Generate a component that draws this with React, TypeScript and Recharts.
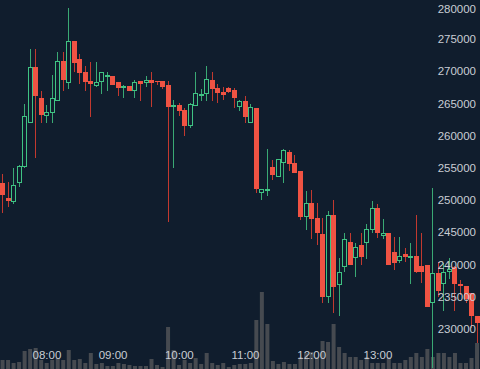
import { ComposedChart, Bar, XAxis, YAxis } from 'recharts'

// 5-minute candles, 07:20 -> 14:30
const times = [
  '07:20', '07:25', '07:30', '07:35', '07:40', '07:45', '07:50', '07:55',
  '08:00', '08:05', '08:10', '08:15', '08:20', '08:25', '08:30', '08:35', '08:40', '08:45', '08:50', '08:55',
  '09:00', '09:05', '09:10', '09:15', '09:20', '09:25', '09:30', '09:35', '09:40', '09:45', '09:50', '09:55',
  '10:00', '10:05', '10:10', '10:15', '10:20', '10:25', '10:30', '10:35', '10:40', '10:45', '10:50', '10:55',
  '11:00', '11:05', '11:10', '11:15', '11:20', '11:25', '11:30', '11:35', '11:40', '11:45', '11:50', '11:55',
  '12:00', '12:05', '12:10', '12:15', '12:20', '12:25', '12:30', '12:35', '12:40', '12:45', '12:50', '12:55',
  '13:00', '13:05', '13:10', '13:15', '13:20', '13:25', '13:30', '13:35', '13:40', '13:45', '13:50', '13:55',
  '14:00', '14:05', '14:10', '14:15', '14:20', '14:25', '14:30',
]

const opens = [
  252700, 250300, 249700, 252700, 255200, 262000, 270700, 265900, 263100, 263500,
  265400, 271600, 268200, 274700, 271900, 269900, 268500, 267700, 268400, 269200,
  269300, 268400, 267400, 267700, 267000, 268500, 268200, 268700, 268500, 268500,
  267900, 264500, 264800, 264000, 261500, 264600, 266200, 266500, 268700, 267400,
  266800, 267400, 267100, 264500, 265400, 262000, 264300, 251100, 251400, 255200,
  253600, 255800, 257500, 255800, 254500, 247400, 249600, 247200, 244800, 235000,
  247700, 236800, 239600, 243500, 241000, 243000, 243400, 245400, 248800, 244400,
  244900, 242000, 240600, 241600, 241200, 241300, 239800, 239900, 234000, 238700,
  237000, 238900, 239600, 237000, 236700, 235600, 232000,
]

const highs = [
  254100, 252800, 255000, 255500, 264900, 273500, 273500, 267000, 264800, 269400,
  273000, 273000, 279900, 274700, 272700, 270800, 271500, 271500, 269900, 269900,
  269300, 268400, 267900, 267700, 268700, 268500, 269300, 269900, 268500, 268500,
  268500, 265600, 265100, 264300, 265100, 269900, 267300, 270800, 269900, 268000,
  267600, 267600, 267400, 265600, 266200, 264900, 264300, 251700, 258000, 256200,
  256400, 258000, 257800, 257000, 254500, 251400, 251600, 249600, 247200, 248300,
  250000, 241000, 244900, 244900, 243400, 244900, 246300, 249900, 249400, 247100,
  244900, 244300, 244300, 242600, 243400, 247700, 244900, 239900, 251900, 240400,
  240200, 241000, 239800, 237600, 236700, 235600, 232000,
]

const lows = [
  248000, 248900, 249400, 252100, 255000, 262000, 256600, 262000, 262000, 262000,
  265400, 267000, 267300, 269900, 268000, 267000, 262900, 267600, 266500, 267000,
  267900, 266200, 265900, 267000, 265900, 265400, 267600, 264500, 267900, 267300,
  246600, 255000, 263100, 260000, 261200, 264600, 265400, 265400, 265400, 265100,
  265600, 266600, 264300, 263900, 262000, 262000, 251100, 250000, 250700, 253100,
  253600, 252700, 254500, 254200, 246900, 245400, 244000, 243000, 234000, 234000,
  232500, 232000, 238900, 239900, 238100, 239900, 240900, 244900, 244100, 244000,
  239900, 239200, 240200, 240400, 237000, 238700, 237100, 233400, 223900, 235000,
  232800, 237800, 232800, 235300, 234000, 230200, 227800,
]

const closes = [
  250800, 249900, 252400, 255300, 263100, 270700, 266200, 263200, 263700, 265900,
  271600, 268700, 274700, 271300, 269800, 268400, 268000, 268400, 269900, 269400,
  267900, 267400, 267700, 267000, 268400, 268000, 268700, 268200, 268300, 267600,
  264500, 264800, 263900, 261500, 264900, 266600, 266500, 268800, 267300, 266600,
  266300, 266800, 265900, 265400, 262900, 264500, 251700, 251700, 251700, 253900,
  256400, 257800, 255600, 254200, 247400, 249600, 247100, 244900, 235000, 247700,
  236500, 238900, 244000, 239900, 242700, 241200, 245500, 248800, 244900, 244900,
  239900, 240200, 241300, 241200, 241400, 238900, 238900, 233400, 238700, 235900,
  238900, 239300, 237000, 236700, 234700, 232000, 230900,
]

const volumes = [
  900, 900, 600, 700, 1800, 2000, 2100, 900, 600, 900,
  1100, 900, 1900, 900, 1000, 600, 1600, 500, 600, 300,
  300, 600, 500, 400, 300, 300, 300, 1000, 400, 200,
  4200, 1900, 400, 900, 600, 1100, 500, 1600, 600, 400,
  600, 200, 400, 500, 500, 600, 4900, 7700, 4500, 800,
  500, 700, 500, 500, 1200, 1600, 1700, 1200, 2800, 2700,
  4500, 2200, 1600, 1200, 1200, 900, 1200, 600, 600, 600,
  1200, 600, 600, 900, 1200, 1600, 1200, 2000, 1200, 1600,
  1600, 1200, 1600, 600, 600, 1100, 2600,
]

const hourTicks = ['08:00', '09:00', '10:00', '11:00', '12:00', '13:00']
const priceTicks = [230000, 235000, 240000, 245000, 250000, 255000, 260000, 265000, 270000, 275000, 280000]

const W = 480
const H = 369
const BG = '#101d2d'
const UP = '#3fc383'
const DOWN = '#f05343'
const UP_WICK = '#3aa974'
const DOWN_WICK = '#c2392f'
const VOL = '#464a50'
const TEXT = '#c9cdd4'
const FONT = '"Liberation Sans", Arial, sans-serif'

const rows = times.map((t, i) => ({
  time: t,
  open: opens[i],
  high: highs[i],
  low: lows[i],
  close: closes[i],
  range: [lows[i], highs[i]],
  volume: volumes[i],
}))

function Candle(props: any) {
  const { x, y, width, height, payload } = props
  if (x == null || !payload) return null
  const { open, close, high, low } = payload
  const top = Math.min(y, y + height)
  const h = Math.abs(height)
  const span = high - low
  const toY = (v: number) => (span > 0 ? top + ((high - v) / span) * h : top)
  const c = Math.floor(x + width / 2)
  const up = close >= open
  const bodyTop = Math.round(toY(Math.max(open, close)))
  const bodyBot = Math.round(toY(Math.min(open, close)))
  const bh = Math.max(bodyBot - bodyTop, 1)
  return (
    <g shapeRendering="crispEdges">
      <line x1={c + 0.5} x2={c + 0.5} y1={top} y2={top + Math.max(h, 1)} stroke={up ? UP_WICK : DOWN_WICK} strokeWidth={1} />
      {up ? (
        <rect x={c - 1.5} y={bodyTop + 0.5} width={4} height={Math.max(bh - 1, 1)} fill={BG} stroke={UP} strokeWidth={1} />
      ) : (
        <rect x={c - 2} y={bodyTop} width={5} height={bh} fill={DOWN} />
      )}
    </g>
  )
}

function TimeTick(props: any) {
  const { x, payload } = props
  return (
    <text x={x} y={H - 10} textAnchor="middle" fill={TEXT} fontSize={11.5} fontFamily={FONT}>
      {payload.value}
    </text>
  )
}

function PriceTick(props: any) {
  const { y, payload } = props
  return (
    <text x={W - 4} y={y + 4} textAnchor="end" fill={TEXT} fontSize={11.5} fontFamily={FONT}>
      {payload.value}
    </text>
  )
}

export default function App() {
  return (
    <div style={{ position: 'absolute', left: 0, top: 0, width: W, height: H, overflow: 'hidden', background: BG }}>
      {/* volume pane underneath */}
      <div style={{ position: 'absolute', left: 0, top: 0 }}>
        <ComposedChart width={W} height={H} data={rows} margin={{ top: 0, right: 0, bottom: 0, left: 0 }} barCategoryGap="10%">
          <XAxis dataKey="time" hide />
          <YAxis yAxisId="vol" hide domain={[0, 36900]} allowDataOverflow />
          <Bar yAxisId="vol" dataKey="volume" fill={VOL} isAnimationActive={false} />
        </ComposedChart>
      </div>
      {/* candles + axes on top */}
      <div style={{ position: 'absolute', left: 0, top: 0 }}>
        <ComposedChart width={W + 1} height={H + 1} data={rows} margin={{ top: 0, right: 0, bottom: 0, left: 0 }} barCategoryGap="10%">
          <XAxis
            dataKey="time"
            ticks={hourTicks}
            interval={0}
            height={1}
            axisLine={false}
            tickLine={false}
            tick={<TimeTick />}
          />
          <YAxis
            yAxisId="price"
            orientation="right"
            width={1}
            domain={[223790, 281087]}
            allowDataOverflow
            ticks={priceTicks}
            axisLine={false}
            tickLine={false}
            tick={<PriceTick />}
          />
          <Bar yAxisId="price" dataKey="range" shape={<Candle />} isAnimationActive={false} />
        </ComposedChart>
      </div>
    </div>
  )
}
